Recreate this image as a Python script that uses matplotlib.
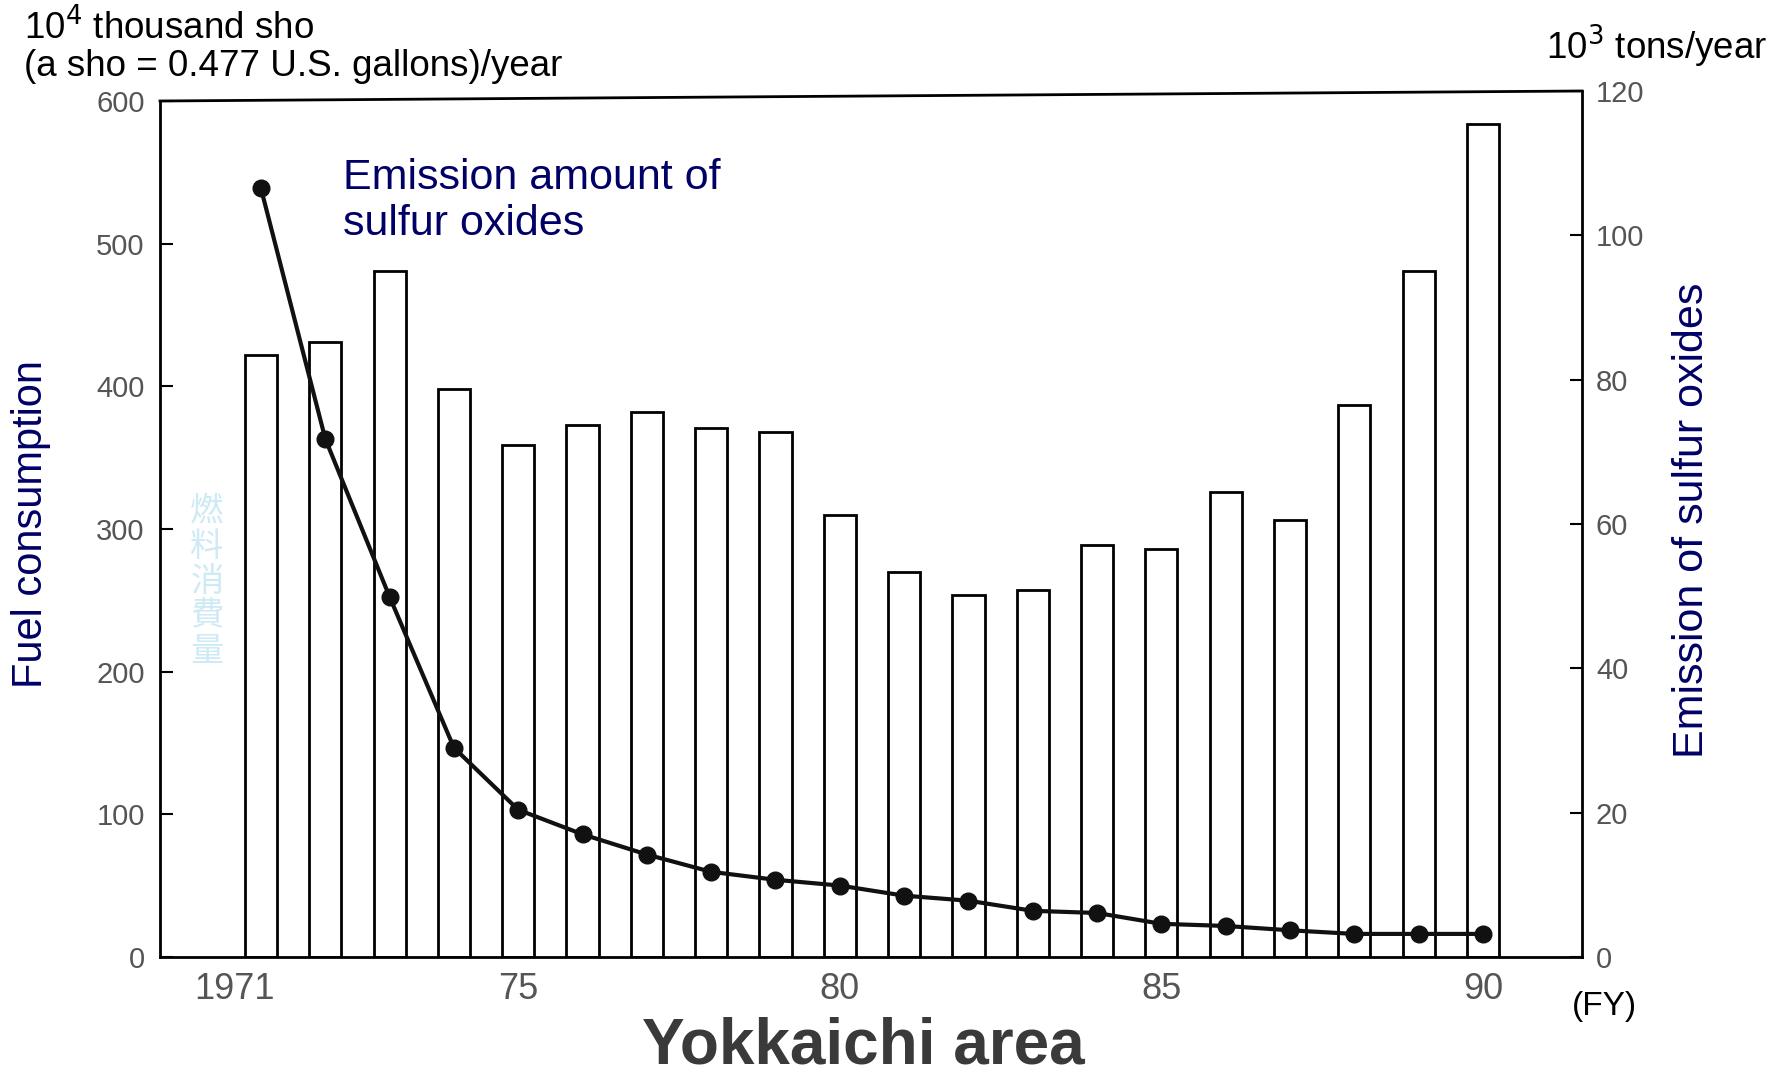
import matplotlib.pyplot as plt
import matplotlib.transforms as mtransforms
from matplotlib.lines import Line2D

years = list(range(1971, 1991))
fuel = [422, 431, 481, 398, 359, 373, 382, 371, 368, 310,
        270, 254, 257, 289, 286, 326, 306, 387, 481, 584]
sox = [106.5, 71.8, 49.9, 29.0, 20.4, 17.0, 14.2, 11.8, 10.7, 9.9,
       8.5, 7.8, 6.4, 6.1, 4.6, 4.3, 3.7, 3.2, 3.2, 3.2]
xtick_pos = [1971, 1975, 1980, 1985, 1990]
xtick_lab = ["1971", "75", "80", "85", "90"]
left_ticks = [0, 100, 200, 300, 400, 500, 600]
right_ticks = [0, 20, 40, 60, 80, 100, 120]

navy = "#000066"
gray = "#555555"
plt.rcParams["font.family"] = ["Liberation Sans", "DejaVu Sans"]

W, H = 1787, 1074
fig = plt.figure(figsize=(W / 100, H / 100), dpi=100)

# the scanned frame is slightly tilted: the right axis top sits a bit higher
x0, x1 = 160, 1582
yb, yt_left, yt_right = 957, 101, 91
ax = fig.add_axes([x0 / W, 1 - yb / H, (x1 - x0) / W, (yb - yt_left) / H])
ax2 = fig.add_axes([x0 / W, 1 - yb / H, (x1 - x0) / W, (yb - yt_right) / H])
ax2.patch.set_visible(False)

ax.bar(years, fuel, width=0.5, color="white", edgecolor="black", linewidth=2)
ax.set_xlim(1969.43, 1991.54)
ax.set_ylim(0, 600)
ax.set_yticks(left_ticks)
ax.set_yticklabels([str(t) for t in left_ticks], fontsize=21, color=gray)
ax.set_xticks(xtick_pos)
ax.set_xticklabels(xtick_lab, fontsize=26, color=gray)
ax.tick_params(axis="y", direction="in", length=9, width=1.5, pad=11)
ax.tick_params(axis="x", length=0, pad=11)
for name, s in ax.spines.items():
    s.set_linewidth(2)
ax.spines["top"].set_visible(False)
ax.spines["right"].set_visible(False)

# 1971 label sits left of its bar in the original
off = mtransforms.ScaledTranslation(-26 / 100, 0, fig.dpi_scale_trans)
first = ax.get_xticklabels()[0]
first.set_transform(first.get_transform() + off)

ax2.plot(years, sox, color="#111111", linewidth=3, marker="o", markersize=12)
ax2.set_xlim(ax.get_xlim())
ax2.set_ylim(0, 120)
ax2.set_xticks([])
ax2.yaxis.tick_right()
ax2.set_yticks(right_ticks)
ax2.set_yticklabels([str(t) for t in right_ticks], fontsize=21, color=gray)
ax2.tick_params(axis="y", direction="in", length=9, width=1.5, pad=10)
for name, s in ax2.spines.items():
    s.set_visible(name == "right")
    s.set_linewidth(2)

fig.add_artist(Line2D([x0 / W, x1 / W], [1 - yt_left / H, 1 - yt_right / H],
                      transform=fig.transFigure, color="black", linewidth=2))

fig.text(0.0135, 0.9575, "10$^4$ thousand sho\n(a sho = 0.477 U.S. gallons)/year",
         fontsize=26.5, ha="left", va="center", linespacing=1.1)
fig.text(0.989, 0.957, "10$^3$ tons/year", fontsize=26.5, ha="right", va="center")
fig.text(0.192, 0.813, "Emission amount of\nsulfur oxides", fontsize=31, color=navy,
         ha="left", va="center", linespacing=1.2)
fig.text(0.0173, 0.512, "Fuel consumption", fontsize=30, color=navy,
         rotation=90, ha="center", va="center")
fig.text(0.947, 0.516, "Emission of sulfur oxides", fontsize=31, color=navy,
         rotation=90, ha="center", va="center")
fig.text(0.1158, 0.459, "\n".join("燃料消費量"), fontsize=24, color="#cdeaf5",
         family=["Noto Sans CJK JP", "DejaVu Sans"], ha="center", va="center",
         linespacing=1.0)
fig.text(0.898, 0.063, "(FY)", fontsize=24, ha="center", va="center")
fig.text(0.483, 0.026, "Yokkaichi area", fontsize=46, fontweight="bold",
         color="#3a3a3a", ha="center", va="center")

fig.savefig("out.png", dpi=100, facecolor="white")
